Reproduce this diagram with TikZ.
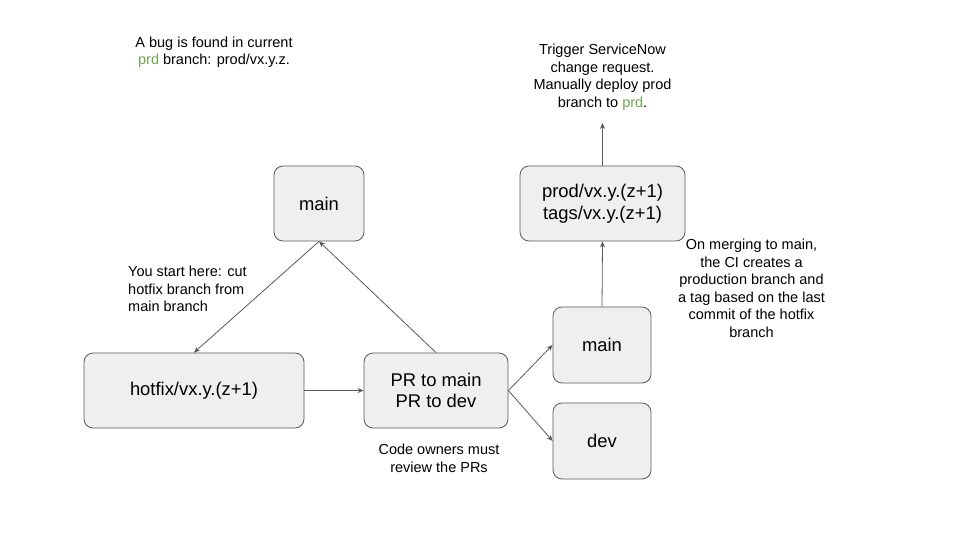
\documentclass[tikz,border=0pt]{standalone}
\usepackage{fontspec}
\setmainfont{Liberation Sans}
\usetikzlibrary{arrows.meta}
\definecolor{boxfill}{HTML}{EFEFEF}
\definecolor{boxline}{HTML}{595959}
\definecolor{prdgreen}{HTML}{6AA84F}
\begin{document}
\begin{tikzpicture}[x=1pt, y=-1pt, >={Stealth[length=6pt,width=5pt]},
branch node/.style={rectangle,rounded corners=9pt,fill=boxfill,draw=boxline,line width=0.8pt,minimum height=75pt,inner sep=0pt,align=center,font=\fontsize{18.4}{21.5}\selectfont},
note/.style={align=center,inner sep=0pt,font=\fontsize{14.5}{17.5}\selectfont},
flow/.style={->,draw=boxline,line width=0.8pt}]
\useasboundingbox (0,0) rectangle (960,540);
\node[branch node, minimum width=90pt] (main1) at (319,203.5) {main};
\node[branch node, minimum width=220pt] (hotfix) at (194,390.5) {hotfix/vx.y.(z+1)};
\node[branch node, minimum width=144pt] (pr) at (436,390.5) {PR to main\\PR to dev};
\node[branch node, minimum width=98pt, minimum height=76pt] (main2) at (602,345) {main};
\node[branch node, minimum width=98pt, minimum height=76pt] (dev) at (602,441) {dev};
\node[branch node, minimum width=165pt] (prod) at (602.5,203.5) {prod/vx.y.(z+1)\\tags/vx.y.(z+1)};
\coordinate (deploy) at (602.5,123);
% notes
\node[note] (bug) at (214,52.5) {A bug is found in current\\\textcolor{prdgreen}{prd} branch: prod/vx.y.z.};
\node[note, align=left, anchor=west] (start) at (128,289) {You start here: cut\\hotfix branch from\\main branch};
\node[note] (owners) at (439,458.5) {Code owners must\\review the PRs};
\node[note] (trigger) at (602.5,77.5) {Trigger ServiceNow\\change request.\\Manually deploy prod\\branch to \textcolor{prdgreen}{prd}.};
\node[note] (ci) at (751.5,288.5) {On merging to main,\\the CI creates a\\production branch and\\a tag based on the last\\commit of the hotfix\\branch};
% connectors
\draw[flow] (main1.south) -- (hotfix.north);
\draw[flow] (pr.north) -- (main1.south);
\draw[flow] (hotfix.east) -- (pr.west);
\draw[flow] (pr.east) -- (main2.west);
\draw[flow] (pr.east) -- (dev.west);
\draw[flow] (main2.north) -- (prod.south);
\draw[flow] (prod.north) -- (deploy);
\end{tikzpicture}
\end{document}
